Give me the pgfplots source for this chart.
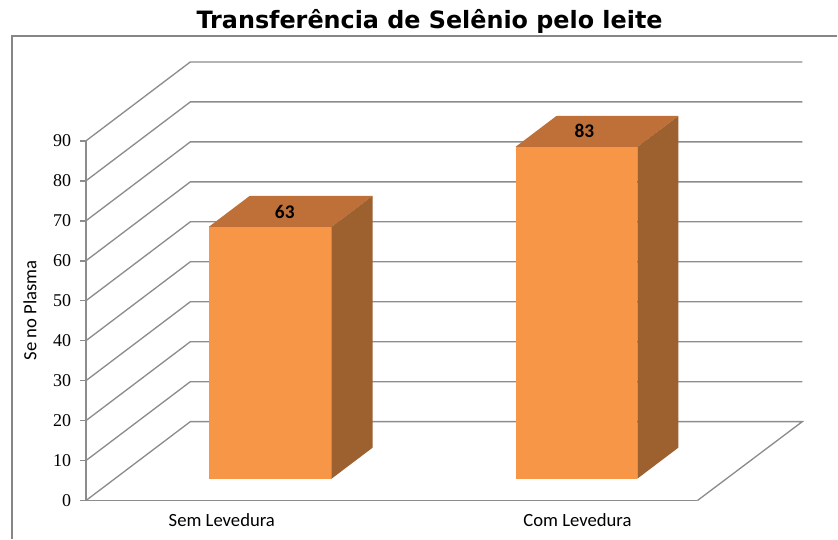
\documentclass[border=0pt]{standalone}
\usepackage{pgfplots}
\pgfplotsset{compat=1.18}
\usepackage{fontspec}
\setmainfont{Carlito}
\newfontfamily\titlefont{DejaVu Sans}
\newfontfamily\tickfont{Liberation Serif}
\definecolor{barfront}{HTML}{F79646}
\definecolor{bartop}{HTML}{BE7038}
\definecolor{barside}{HTML}{9D602F}
\definecolor{gridcol}{HTML}{8C8C8C}
\definecolor{framecol}{HTML}{868686}
\begin{document}
\begin{tikzpicture}
\begin{axis}[
  x=0.75pt, y=3pt,
  xmin=86, xmax=698, ymin=0, ymax=90,
  axis x line*=bottom, axis y line*=left,
  axis line style={-, draw=gridcol, line width=1.1pt},
  clip=false,
  xtick={222,578},
  xticklabels={Sem Levedura, Com Levedura},
  x tick style={draw=none},
  ytick={0,10,...,90},
  y tick style={draw=gridcol, line width=1.1pt},
  tick align=outside,
  major tick length=4.5pt,
  /pgf/number format/assume math mode=true,
  yticklabel style={font=\tickfont\fontsize{13.5}{13.5}\selectfont, xshift=-3pt},
  xticklabel style={font=\fontsize{14}{14}\selectfont, yshift=-2pt},
  title={Transferência de Selênio pelo leite},
  title style={at={(rel axis cs:0.562,1.2889)}, anchor=base, font=\titlefont\bfseries\fontsize{17.9}{17.9}\selectfont},
  ylabel={Se no Plasma},
  ylabel style={at={(rel axis cs:-0.0915,0.529)}, anchor=center, font=\fontsize{14}{14}\selectfont},
]
% bounding box (whole chart area)
\addplot[draw=none, forget plot] coordinates {(0,-9.5) (838,125.25)};
% chart frame
\addplot[framecol, line width=1.1pt] coordinates {(12,-9.5) (12,116.25) (838,116.25)};
% walls and floor
\addplot[gridcol, line width=1pt] coordinates {(86,0) (190.5,19.75) (803,19.75) (698,0)};
\addplot[gridcol, line width=1pt] coordinates {(86,10) (190.5,29.75) (803,29.75)};
\addplot[gridcol, line width=1pt] coordinates {(86,20) (190.5,39.75) (803,39.75)};
\addplot[gridcol, line width=1pt] coordinates {(86,30) (190.5,49.75) (803,49.75)};
\addplot[gridcol, line width=1pt] coordinates {(86,40) (190.5,59.75) (803,59.75)};
\addplot[gridcol, line width=1pt] coordinates {(86,50) (190.5,69.75) (803,69.75)};
\addplot[gridcol, line width=1pt] coordinates {(86,60) (190.5,79.75) (803,79.75)};
\addplot[gridcol, line width=1pt] coordinates {(86,70) (190.5,89.75) (803,89.75)};
\addplot[gridcol, line width=1pt] coordinates {(86,80) (190.5,99.75) (803,99.75)};
\addplot[gridcol, line width=1pt] coordinates {(86,90) (190.5,109.75) (803,109.75)};
% bar: Sem Levedura = 63
\addplot[fill=barfront, draw=none] coordinates {(209,5.5) (332,5.5) (332,68.5) (209,68.5)} -- cycle;
\addplot[fill=bartop, draw=none] coordinates {(209,68.5) (332,68.5) (373,76.25) (250,76.25)} -- cycle;
\addplot[fill=barside, draw=none] coordinates {(332,5.5) (373,13.25) (373,76.25) (332,68.5)} -- cycle;
% bar: Com Levedura = 83
\addplot[fill=barfront, draw=none] coordinates {(516,5.5) (638,5.5) (638,88.5) (516,88.5)} -- cycle;
\addplot[fill=bartop, draw=none] coordinates {(516,88.5) (638,88.5) (679,96.25) (557,96.25)} -- cycle;
\addplot[fill=barside, draw=none] coordinates {(638,5.5) (679,13.25) (679,96.25) (638,88.5)} -- cycle;
% value labels
\addplot[draw=none, nodes near coords, point meta=explicit symbolic,
  every node near coord/.append style={anchor=center, font=\bfseries\fontsize{14.5}{14.5}\selectfont, text=black}]
  coordinates {(285,72.25) [63] (585,92.5) [83]};
\end{axis}
\end{tikzpicture}
\end{document}
